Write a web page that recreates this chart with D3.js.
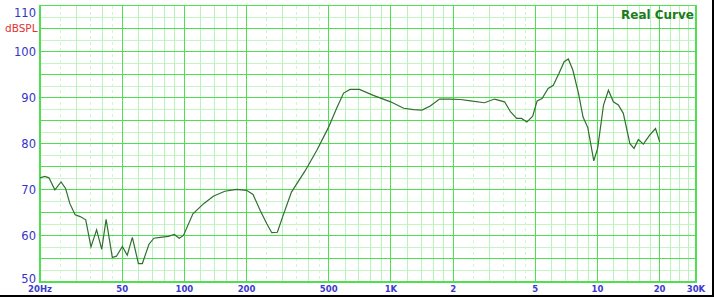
<!DOCTYPE html>
<html>
<head>
<meta charset="utf-8">
<script src="https://cdn.jsdelivr.net/npm/d3@7"></script>
<style>
  body { margin: 0; background: #fff; }
  svg { display: block; }
</style>
</head>
<body>
<svg id="chart" width="714" height="297"></svg>
<script>
// frequency response (Hz, dBSPL)
const freqs = [
  20, 21.1, 22.1, 23.6, 25.3, 26.6, 27.9, 29.6, 31.3, 33.3,
  35.3, 37.6, 39.8, 41.8, 44.8, 46.9, 50.1, 52.9, 56, 59.9,
  62.6, 67.4, 71.2, 76.3, 83.6, 89.4, 94.4, 99, 110, 124,
  138, 157, 179, 200, 215, 233, 251, 265, 282, 301,
  330, 384, 438, 498, 546, 590, 634, 704, 822, 997,
  1153, 1288, 1414, 1550, 1720, 1938, 2172, 2432, 2838, 3174,
  3550, 3798, 4064, 4288, 4554, 4858, 5104, 5390, 5772, 6112,
  6516, 6898, 7226, 7600, 8100, 8516, 8980, 9600, 10020, 10700,
  11300, 11940, 12620, 13340, 14360, 15040, 15780, 16680, 17860, 19100,
  20020
];
const spl = [
  72.6, 72.9, 72.6, 70.0, 71.7, 70.3, 67.0, 64.6, 64.2, 63.5,
  57.6, 61.3, 57.1, 63.6, 55.3, 55.6, 57.7, 55.8, 59.7, 54.0,
  54.0, 58.2, 59.5, 59.7, 59.9, 60.3, 59.5, 60.1, 64.8, 67.0,
  68.6, 69.7, 70.1, 69.9, 69.0, 65.5, 62.6, 60.7, 60.8, 64.5,
  69.5, 74.1, 78.6, 83.5, 87.7, 91.0, 91.8, 91.8, 90.5, 89.1,
  87.7, 87.4, 87.3, 88.2, 89.7, 89.7, 89.6, 89.3, 88.9, 89.7,
  89.1, 86.9, 85.5, 85.5, 84.7, 86.0, 89.3, 89.8, 92.0, 92.7,
  95.3, 97.8, 98.4, 96.0, 90.9, 85.8, 83.5, 76.3, 79.0, 88.4,
  91.6, 89.1, 88.4, 86.6, 80.0, 79.0, 80.9, 79.9, 81.8, 83.3,
  80.4
];

const yTicks = [50, 60, 70, 80, 90, 100, 110];
const xMajor = [20, 50, 100, 200, 500, 1000, 2000, 5000, 10000, 20000, 30000];
const xLabels = ['20Hz', '50', '100', '200', '500', '1K', '2', '5', '10', '20', '30K'];
const xMinor = [
  30, 40, 60, 70, 80, 90, 120, 140, 160, 180, 300, 400,
  600, 700, 800, 900, 1200, 1400, 1600, 1800, 3000, 4000,
  6000, 7000, 8000, 9000, 12000, 14000, 16000, 18000, 22500, 25000, 27500
];
const xDashed = [25, 35, 45, 250, 350, 450, 2500, 3500, 4500];

const plotLeft = 40, plotRight = 696, plotTop = 5.5, plotBottom = 282;

const svg = d3.select('#chart');

const x = d3.scaleLog().domain([20, 30000]).range([plotLeft, plotRight]);
const y = d3.scaleLinear().domain([50, 110]).range([plotBottom, plotTop]);

const grid = svg.append('g').attr('shape-rendering', 'crispEdges');

// light horizontal lines every 2.5 dB
grid.selectAll('.hminor')
  .data(d3.range(52.5, 110, 5))
  .join('line')
  .attr('x1', plotLeft).attr('x2', plotRight)
  .attr('y1', (d) => y(d)).attr('y2', (d) => y(d))
  .attr('stroke', '#c4f6c4');

grid.selectAll('.vdash')
  .data(xDashed)
  .join('line')
  .attr('x1', (d) => x(d)).attr('x2', (d) => x(d))
  .attr('y1', plotTop).attr('y2', plotBottom)
  .attr('stroke', '#cdf7cd')
  .attr('stroke-dasharray', '3,3');

grid.selectAll('.vminor')
  .data(xMinor)
  .join('line')
  .attr('x1', (d) => x(d)).attr('x2', (d) => x(d))
  .attr('y1', plotTop).attr('y2', plotBottom)
  .attr('stroke', '#b8f3b8');

grid.selectAll('.hmajor')
  .data(d3.range(50, 111, 5))
  .join('line')
  .attr('x1', plotLeft).attr('x2', plotRight)
  .attr('y1', (d) => y(d)).attr('y2', (d) => y(d))
  .attr('stroke', '#4ee04e');

grid.selectAll('.vmajor')
  .data(xMajor)
  .join('line')
  .attr('x1', (d) => x(d)).attr('x2', (d) => x(d))
  .attr('y1', plotTop).attr('y2', plotBottom)
  .attr('stroke', '#4ee04e');

grid.append('rect')
  .attr('x', plotLeft).attr('y', plotTop)
  .attr('width', plotRight - plotLeft).attr('height', plotBottom - plotTop)
  .attr('fill', 'none')
  .attr('stroke', '#4ee04e')
  .attr('stroke-width', 1.5);

// curve
const line = d3.line()
  .x((d) => x(d[0]))
  .y((d) => y(d[1]));

svg.append('path')
  .datum(d3.zip(freqs, spl))
  .attr('d', line)
  .attr('fill', 'none')
  .attr('stroke', '#2f6f2f')
  .attr('stroke-width', 1.2);

// y labels
svg.selectAll('.ylab')
  .data(yTicks)
  .join('text')
  .attr('x', 36)
  .attr('y', (d) => (d === 110 ? y(d) + 7 : d === 50 ? y(d) - 3 : y(d)))
  .attr('dy', '0.36em')
  .attr('text-anchor', 'end')
  .attr('font-family', 'DejaVu Sans')
  .attr('font-size', 11.5)
  .attr('fill', '#3434c8')
  .text((d) => d);

svg.append('text')
  .attr('x', 37.5)
  .attr('y', 28.5)
  .attr('dy', '0.36em')
  .attr('text-anchor', 'end')
  .attr('font-family', 'DejaVu Sans')
  .attr('font-size', 10.5)
  .attr('fill', '#e03434')
  .text('dBSPL');

// x labels
svg.selectAll('.xlab')
  .data(xMajor)
  .join('text')
  .attr('x', (d) => x(d))
  .attr('y', 292)
  .attr('text-anchor', 'middle')
  .attr('font-family', 'DejaVu Sans')
  .attr('font-weight', 'bold')
  .attr('font-size', 8.5)
  .attr('fill', '#3a3ad0')
  .text((d, i) => xLabels[i]);

svg.append('text')
  .attr('x', 694)
  .attr('y', 18.5)
  .attr('text-anchor', 'end')
  .attr('font-family', 'DejaVu Sans')
  .attr('font-weight', 'bold')
  .attr('font-size', 12)
  .attr('fill', '#1c7c1c')
  .text('Real Curve');

// black frame edge at bottom and right
svg.append('rect')
  .attr('x', 0).attr('y', 295)
  .attr('width', 714).attr('height', 2)
  .attr('fill', '#000');
svg.append('rect')
  .attr('x', 712).attr('y', 0)
  .attr('width', 2).attr('height', 297)
  .attr('fill', '#000');
</script>
</body>
</html>
